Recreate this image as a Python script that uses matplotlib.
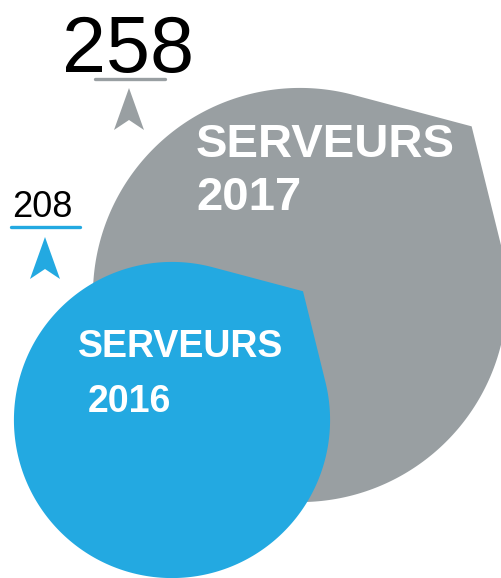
import numpy as np
import matplotlib
matplotlib.use("Agg")
import matplotlib.pyplot as plt
from matplotlib.patches import Polygon

# ---- data ----
years = ["2016", "2017"]
values = [208, 258]
category = "SERVEURS"
colors = ["#23A9E1", "#999FA2"]

# ---- styling / layout (pixel space, y down) ----
W, H = 502, 578
r_slope, r_offset = 0.98, 46.7          # radius scale: r = slope * (value - offset)
corner_ratio, corner_angle = 1.162, np.deg2rad(-44.5)   # teardrop tip
centers = {"2017": (300, 295), "2016": (172, 420)}
value_label_pos = {"2017": (128, 72, 57, 95, 165, 78.5, 129, 88),
                   "2016": (42.5, 217, 26, 11, 80, 227, 45, 237)}
name_pos = {"2017": (196, 157, 210, 34, 196), "2016": (78, 357, 412, 27, 88)}


def teardrop(cx, cy, r):
    alpha = np.arccos(1.0 / corner_ratio)
    t = np.linspace(corner_angle + alpha, corner_angle + 2 * np.pi - alpha, 400)
    arc = np.column_stack([cx + r * np.cos(t), cy + r * np.sin(t)])
    tip = np.array([[cx + corner_ratio * r * np.cos(corner_angle),
                     cy + corner_ratio * r * np.sin(corner_angle)]])
    return np.vstack([arc, tip])


fig = plt.figure(figsize=(W / 100, H / 100), dpi=100)
ax = fig.add_axes([0, 0, 1, 1])
ax.set_xlim(0, W)
ax.set_ylim(H, 0)
ax.axis("off")

font = "Liberation Sans"
arrow_shape = np.array([(0, 0), (-15, 42), (0, 32), (15, 42)])

for yr, val, col in sorted(zip(years, values, colors), key=lambda t: -t[1]):
    cx, cy = centers[yr]
    R = r_slope * (val - r_offset)
    ax.add_patch(Polygon(teardrop(cx, cy, R), closed=True, facecolor=col,
                         edgecolor="none", zorder=1))

for yr, val, col in zip(years, values, colors):
    tx, ty, fs, ux0, ux1, uy, ax_, ay = value_label_pos[yr]
    ax.text(tx, ty, str(val), fontsize=fs, family=font, color="black",
            ha="center", va="baseline", zorder=3)
    ax.plot([ux0, ux1], [uy, uy], color=col, lw=2.4, solid_capstyle="round", zorder=3)
    ax.add_patch(Polygon(arrow_shape + np.array([ax_, ay]), closed=True,
                         facecolor=col, edgecolor="none", zorder=3))
    nx, ny1, ny2, nfs, nx2 = name_pos[yr]
    ax.text(nx, ny1, category, fontsize=nfs, family=font, weight="bold",
            color="white", ha="left", va="baseline", zorder=4)
    ax.text(nx2, ny2, yr, fontsize=nfs, family=font, weight="bold",
            color="white", ha="left", va="baseline", zorder=4)

fig.savefig("out.png", dpi=100)
